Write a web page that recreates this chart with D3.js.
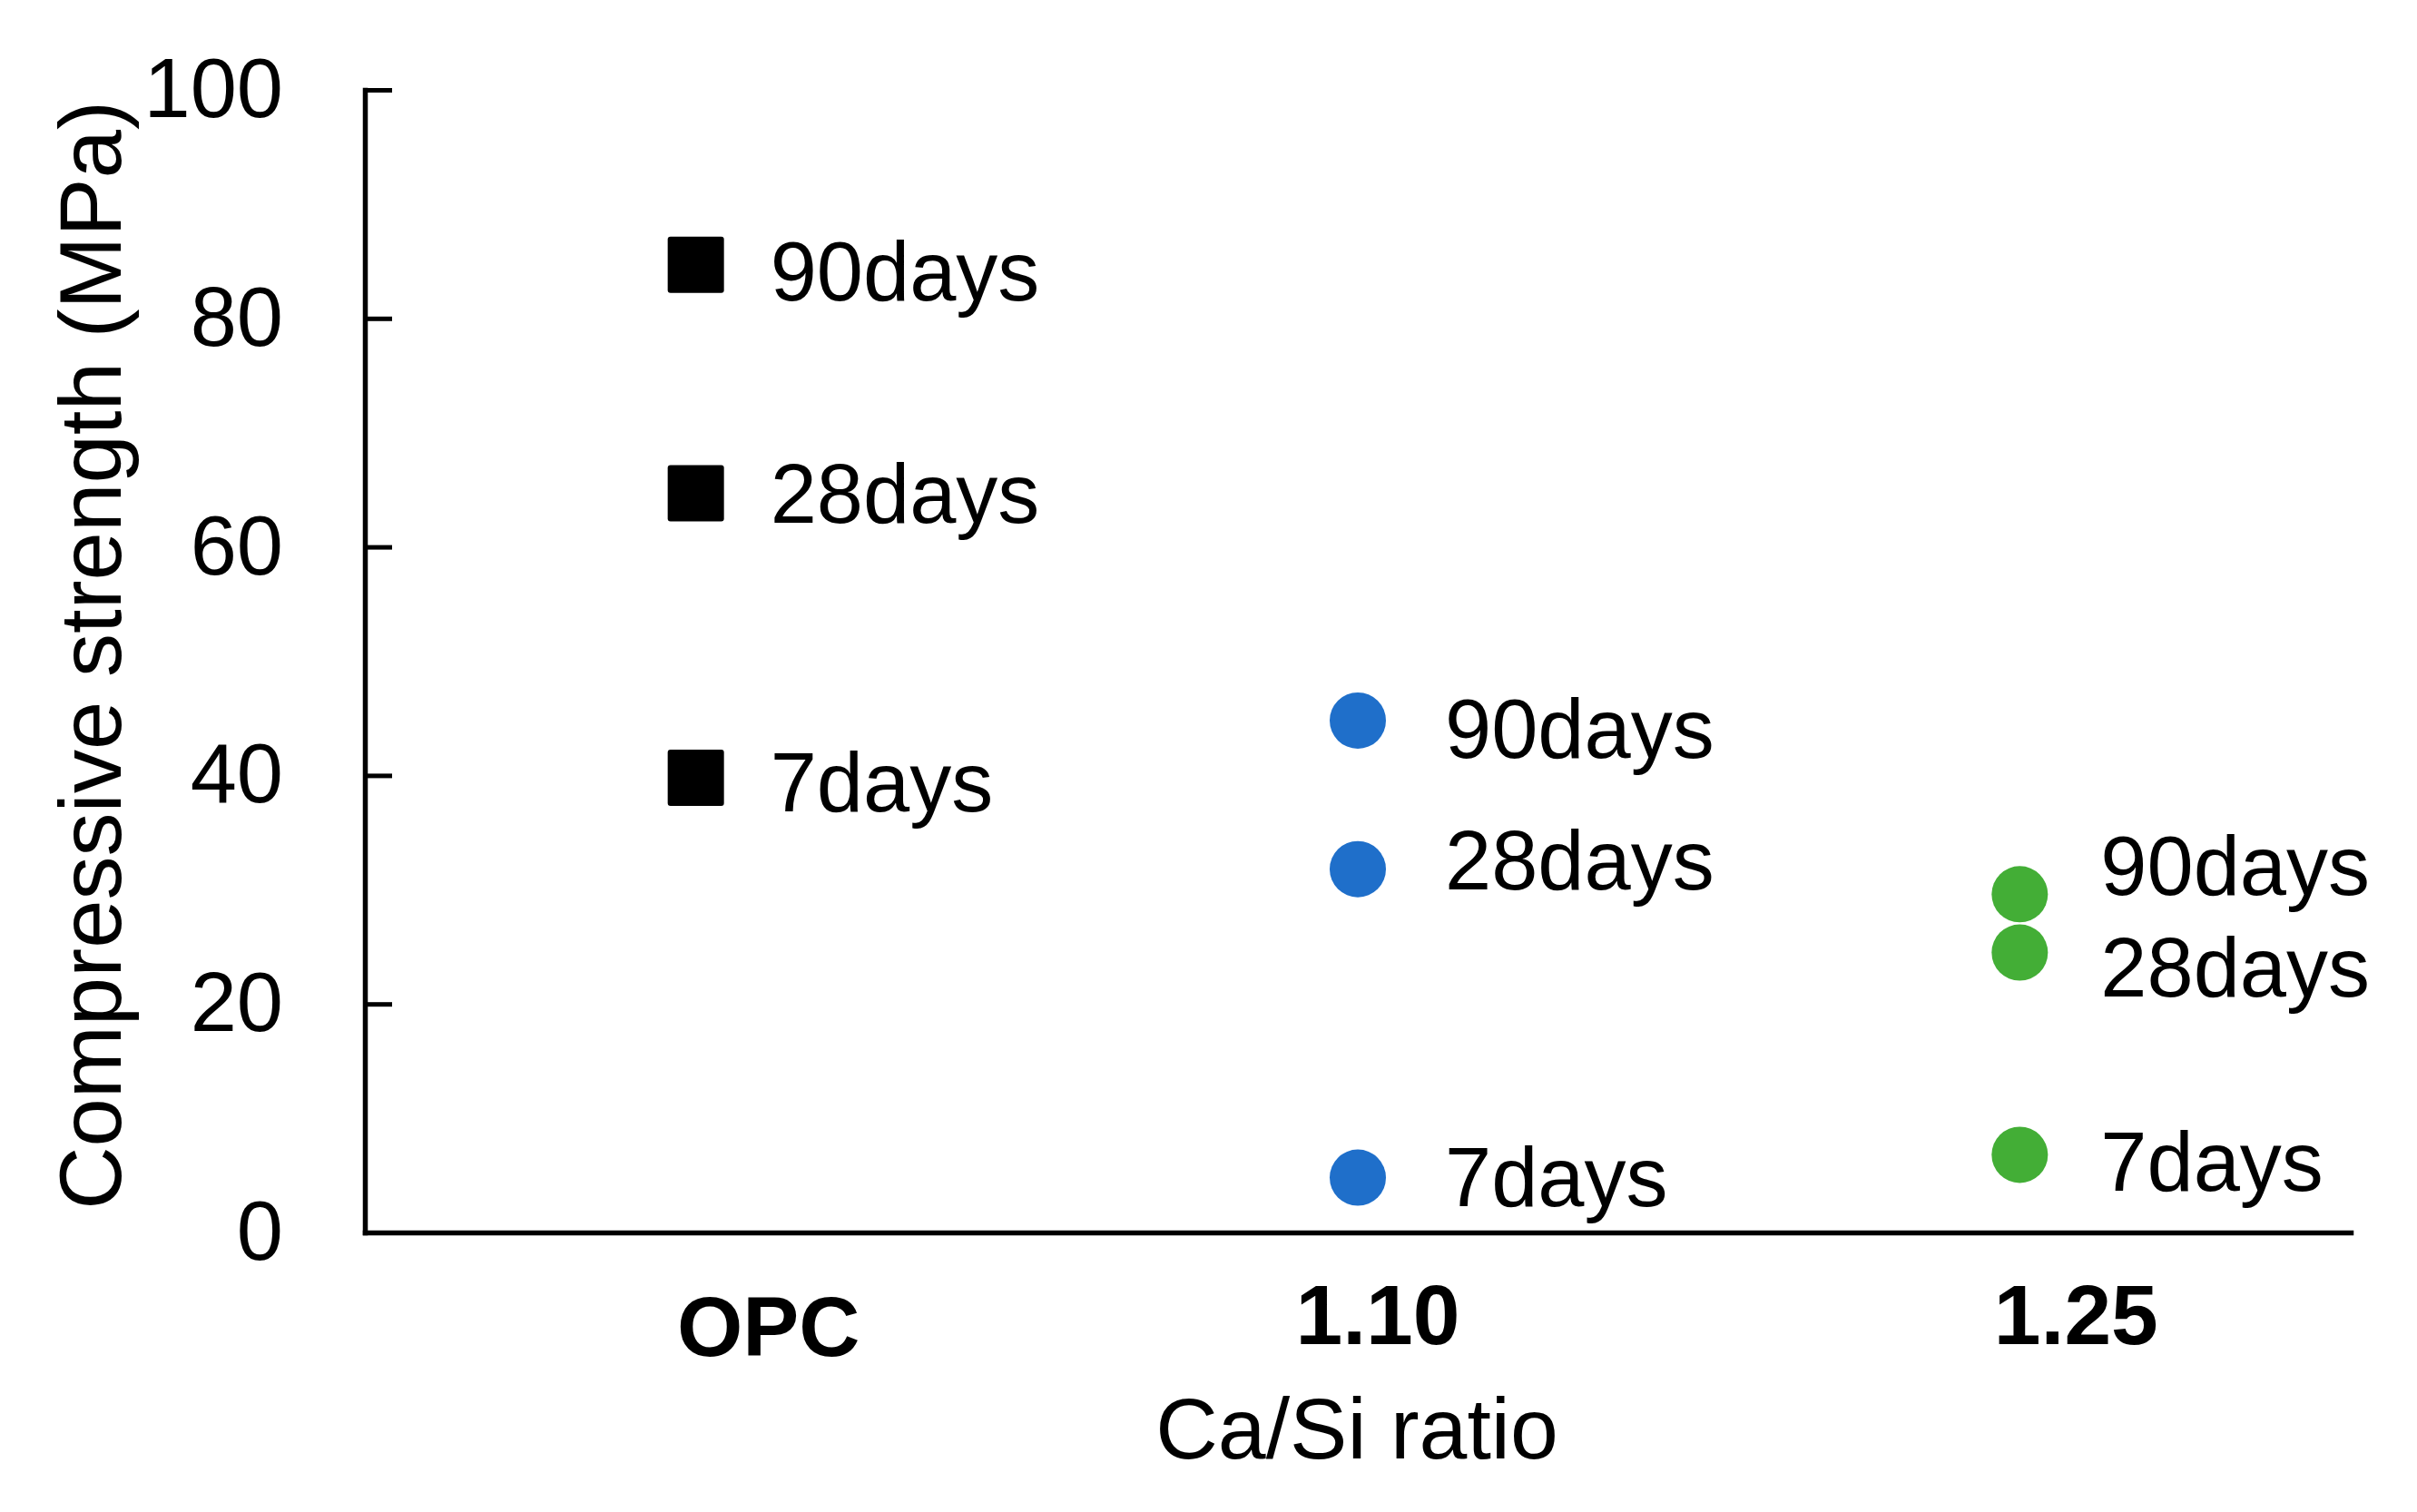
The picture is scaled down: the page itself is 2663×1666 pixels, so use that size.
<!DOCTYPE html>
<html>
<head>
<meta charset="utf-8">
<script src="https://cdn.jsdelivr.net/npm/d3@7"></script>
<style>
  html, body { margin: 0; padding: 0; background: #ffffff; }
  svg { display: block; }
  text { font-family: "Liberation Sans", Arial, Helvetica, sans-serif; fill: #000; }
</style>
</head>
<body>
<svg id="chart" width="2663" height="1666"></svg>
<script>
// ---- data ----
const categories = ["OPC", "1.10", "1.25"];
const ageLabels = ["90days", "28days", "7days"];
const opcValues = [84.7, 64.7, 39.8];
const ratio110Values = [44.8, 31.8, 4.8];
const ratio125Values = [29.6, 24.5, 6.8];
const yTickValues = [0, 20, 40, 60, 80, 100];
const yTitle = "Compressive strength (MPa)";
const xTitle = "Ca/Si ratio";

// ---- layout / style (not data) ----
const plotLeft = 402, plotRight = 2590, plotTop = 99, plotBottom = 1358;
const seriesStyle = [
  { cat: "OPC",  values: opcValues,      shape: "square", color: "#000000", labelDx: 82, labelDy: [6, 0, 4] },
  { cat: "1.10", values: ratio110Values, shape: "circle", color: "#1F6FCA", labelDx: 96, labelDy: [8, -11, -2] },
  { cat: "1.25", values: ratio125Values, shape: "circle", color: "#43AE36", labelDx: 89, labelDy: [-32, 16, 7] }
];
const catLabelDx = [80, 22, 62];
const catLabelY = [1494, 1481, 1481];
const labelFont = 92;

const svg = d3.select("#chart");

const x = d3.scaleBand().domain(categories).range([plotLeft, plotRight]).padding(0);
const y = d3.scaleLinear().domain([0, 100]).range([plotBottom, plotTop]);
const cx = c => x(c) + x.bandwidth() / 2;

// y axis
const yAxis = svg.append("g")
  .attr("transform", `translate(${plotLeft},0)`)
  .call(d3.axisLeft(y).tickValues(yTickValues).tickSizeInner(-30).tickSizeOuter(0).tickPadding(90));
yAxis.select(".domain").attr("stroke", "#000").attr("stroke-width", 5.5).attr("stroke-linecap", "square");
yAxis.selectAll(".tick line").attr("stroke", "#000").attr("stroke-width", 5);
yAxis.selectAll(".tick text").attr("font-size", 92).attr("font-family", "Liberation Sans, Arial, sans-serif").attr("fill", "#000");

// x axis
const xAxis = svg.append("g")
  .attr("transform", `translate(0,${plotBottom})`)
  .call(d3.axisBottom(x).tickSize(0).tickSizeOuter(0));
xAxis.select(".domain").attr("stroke", "#000").attr("stroke-width", 5.5).attr("stroke-linecap", "square");
xAxis.selectAll(".tick text")
  .attr("font-size", 93)
  .attr("font-weight", "bold")
  .attr("font-family", "Liberation Sans, Arial, sans-serif")
  .attr("fill", "#000")
  .attr("dy", null)
  .attr("x", (d, i) => catLabelDx[i])
  .attr("y", (d, i) => catLabelY[i] - plotBottom);

// axis titles
svg.append("text")
  .attr("transform", `translate(133,722) rotate(-90)`)
  .attr("text-anchor", "middle")
  .attr("font-size", 96)
  .text(yTitle);

svg.append("text")
  .attr("x", 1495)
  .attr("y", 1607)
  .attr("text-anchor", "middle")
  .attr("font-size", 95)
  .text(xTitle);

// points and labels
const markerSize = 62;
seriesStyle.forEach(s => {
  const g = svg.append("g");
  const pts = s.values.map((v, i) => ({ v, label: ageLabels[i], dy: s.labelDy[i] }));
  if (s.shape === "square") {
    g.selectAll("rect").data(pts).join("rect")
      .attr("x", cx(s.cat) - markerSize / 2)
      .attr("y", d => y(d.v) - markerSize / 2)
      .attr("width", markerSize)
      .attr("height", markerSize)
      .attr("rx", 3)
      .attr("fill", s.color);
  } else {
    g.selectAll("circle").data(pts).join("circle")
      .attr("cx", cx(s.cat))
      .attr("cy", d => y(d.v))
      .attr("r", markerSize / 2)
      .attr("fill", s.color);
  }
  g.selectAll("text").data(pts).join("text")
    .attr("x", cx(s.cat) + s.labelDx)
    .attr("y", d => y(d.v) + d.dy + 0.358 * labelFont)
    .attr("font-size", labelFont)
    .text(d => d.label);
});
</script>
</body>
</html>
